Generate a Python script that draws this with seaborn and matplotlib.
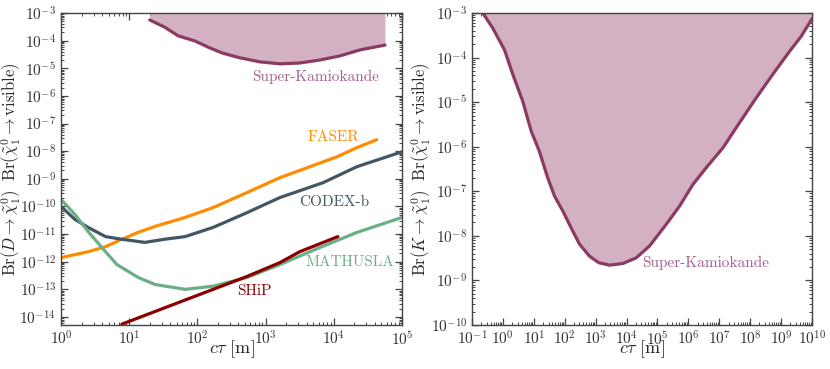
import numpy as np
import pandas as pd
import matplotlib
import matplotlib.pyplot as plt
import seaborn as sns

matplotlib.use('Agg')

# ---- left panel: D-meson decays ----
faser_ctau = [1, 2.5, 4.5, 7.8, 13.5, 24, 66, 170, 537, 1622, 4467, 11220, 21880, 42660]
faser_br = [1.4e-12, 2.3e-12, 3.5e-12, 6.5e-12, 1.15e-11, 1.9e-11, 4.0e-11,
            9.1e-11, 3.2e-10, 1.1e-9, 2.75e-9, 6.3e-9, 1.35e-8, 2.6e-8]

codex_ctau = [1, 1.6, 2.5, 4.5, 7.8, 17, 33, 66, 170, 537, 1622, 6918, 21880, 1e5]
codex_br = [1.0e-10, 3.4e-11, 1.74e-11, 8.1e-12, 6.5e-12, 5.0e-12, 6.5e-12,
            8.1e-12, 1.74e-11, 6.0e-11, 2.1e-10, 7.2e-10, 2.75e-9, 9.5e-9]

mathusla_ctau = [1, 1.6, 2.5, 4.5, 6.6, 13.5, 24, 66, 170, 537, 1622, 6310, 21880, 1e5]
mathusla_br = [1.8e-10, 5.1e-11, 1.23e-11, 2.3e-12, 7.9e-13, 2.7e-13, 1.5e-13,
               1.0e-13, 1.3e-13, 2.7e-13, 7.9e-13, 3.3e-12, 1.15e-11, 4.0e-11]

ship_ctau = [7.8, 71, 170, 537, 1622, 3162, 11480]
ship_br = [5.5e-15, 4.4e-14, 1.0e-13, 2.95e-13, 9.3e-13, 2.3e-12, 8.1e-12]

sk_d_ctau = [20, 33, 52, 91, 151, 229, 417, 832, 1622, 3162, 6310, 12300, 24000, 56200]
sk_d_br = [5.6e-4, 3.1e-4, 1.5e-4, 9.8e-5, 5.5e-5, 3.6e-5, 2.4e-5, 1.7e-5,
           1.45e-5, 1.55e-5, 2.0e-5, 2.8e-5, 4.6e-5, 6.9e-5]

# ---- right panel: kaon decays ----
sk_k_ctau = [0.224, 0.468, 1.12, 2.09, 4.37, 8.3, 15.1, 28.2, 46.8, 87, 162, 302,
             631, 1259, 2818, 7586, 20420, 54950, 1.905e5, 5.248e5, 1.38e6,
             3.8e6, 1.32e7, 4.57e7, 1.58e8, 5.37e8, 1.91e9, 4.47e9, 1e10]
sk_k_br = [1e-3, 4.6e-4, 1.5e-4, 4.2e-5, 1.05e-5, 2.2e-6, 7.9e-7, 2.0e-7, 7.8e-8,
           3.6e-8, 1.5e-8, 6.5e-9, 3.5e-9, 2.5e-9, 2.2e-9, 2.4e-9, 3.2e-9, 5.9e-9,
           1.8e-8, 4.7e-8, 1.4e-7, 3.4e-7, 9.5e-7, 3.5e-6, 1.26e-5, 4.2e-5,
           1.4e-4, 3.0e-4, 7.4e-4]

c_faser = '#ff8c00'
c_codex = '#435663'
c_mathusla = '#6cae86'
c_ship = '#8b0000'
c_sk = '#8b3a62'
c_sk_fill = '#d3b1c3'
c_sk_text = '#a4608a'

sns.set_style('ticks')
plt.rcParams['font.family'] = ['cmr10', 'DejaVu Serif']
plt.rcParams['mathtext.fontset'] = 'cm'
plt.rcParams['axes.formatter.use_mathtext'] = True
plt.rcParams['axes.unicode_minus'] = False

fig = plt.figure(figsize=(8.3, 3.69), dpi=100)
ax1 = fig.add_axes([61 / 830, 44 / 369, 341 / 830, 312 / 369])
ax2 = fig.add_axes([472 / 830, 44 / 369, 340 / 830, 312 / 369])


def draw_line(ax, x, y, color, lw=2.3):
    df = pd.DataFrame({'x': x, 'y': y})
    sns.lineplot(data=df, x='x', y='y', ax=ax, color=color, lw=lw,
                 sort=False, estimator=None)


# left
ax1.fill_between(sk_d_ctau, sk_d_br, 1e-3, color=c_sk_fill, lw=0)
draw_line(ax1, sk_d_ctau, sk_d_br, c_sk)
draw_line(ax1, faser_ctau, faser_br, c_faser)
draw_line(ax1, codex_ctau, codex_br, c_codex)
draw_line(ax1, mathusla_ctau, mathusla_br, c_mathusla)
draw_line(ax1, ship_ctau, ship_br, c_ship)

ax1.set_xscale('log')
ax1.set_yscale('log')
ax1.set_xlim(1, 1e5)
ax1.set_ylim(10 ** -14.29, 1e-3)
ax1.set_yticks([10.0 ** e for e in range(-14, -2)])

labels_left = [('Super-Kamiokande', 0.746, 0.795, c_sk_text),
               ('FASER', 0.799, 0.603, c_faser),
               ('CODEX-b', 0.80, 0.394, c_codex),
               ('MATHUSLA', 0.847, 0.202, c_mathusla),
               ('SHiP', 0.567, 0.109, c_ship)]
for txt, x, y, col in labels_left:
    ax1.text(x, y, txt, color=col, fontsize=11, ha='center', va='center',
             transform=ax1.transAxes)

ax1.set_xlabel(r'$c\tau\ [\mathrm{m}]$', fontsize=13)
ax1.set_ylabel(r'$\mathrm{Br}(D\rightarrow\tilde{\chi}^0_1)\ \ \mathrm{Br}(\tilde{\chi}^0_1\rightarrow\mathrm{visible})$',
               fontsize=12)
ax1.yaxis.set_label_coords(-0.112, 0.5)

# right
ax2.fill_between(sk_k_ctau, sk_k_br, 1e-3, color=c_sk_fill, lw=0)
draw_line(ax2, sk_k_ctau, sk_k_br, c_sk)
ax2.set_xscale('log')
ax2.set_yscale('log')
ax2.set_xlim(1e-1, 1e10)
ax2.set_ylim(1e-10, 1e-3)
ax2.set_xticks([10.0 ** e for e in range(-1, 11)])
ax2.text(0.499, 0.199, 'Super-Kamiokande', color=c_sk_text, fontsize=11,
         ha='left', va='center', transform=ax2.transAxes)
ax2.set_xlabel(r'$c\tau\ [\mathrm{m}]$', fontsize=13)
ax2.set_ylabel(r'$\mathrm{Br}(K\rightarrow\tilde{\chi}^0_1)\ \ \mathrm{Br}(\tilde{\chi}^0_1\rightarrow\mathrm{visible})$',
               fontsize=12)
ax2.yaxis.set_label_coords(-0.116, 0.5)

for ax in (ax1, ax2):
    ax.xaxis.set_label_coords(0.5, -0.044)
    ax.tick_params(which='both', direction='in', top=True, right=True,
                   labelsize=11, colors='#444444', labelcolor='#333333')
    ax.tick_params(which='major', length=5, width=0.9)
    ax.tick_params(which='minor', length=2.5, width=0.7)
    ax.xaxis.set_minor_locator(matplotlib.ticker.LogLocator(base=10, subs=np.arange(2, 10), numticks=100))
    ax.yaxis.set_minor_locator(matplotlib.ticker.LogLocator(base=10, subs=np.arange(2, 10), numticks=100))
    for s in ax.spines.values():
        s.set_color('#444444')
        s.set_linewidth(1.0)

fig.savefig('out.png', dpi=100)
